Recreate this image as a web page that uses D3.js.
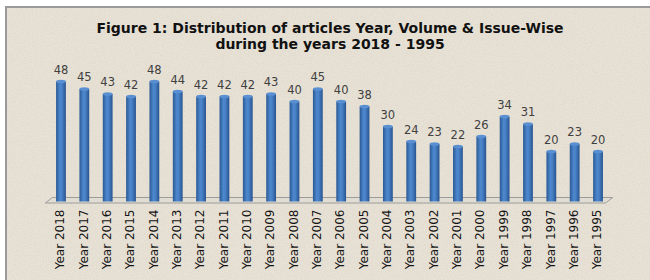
<!DOCTYPE html>
<html>
<head>
<meta charset="utf-8">
<script src="https://cdn.jsdelivr.net/npm/d3@7"></script>
<style>
  html, body { margin: 0; padding: 0; background: #fff; }
  #chart { width: 650px; height: 280px; }
</style>
</head>
<body>
<div id="chart"></div>
<script>
// Datos
const years = ["Year 2018", "Year 2017", "Year 2016", "Year 2015", "Year 2014", "Year 2013",
  "Year 2012", "Year 2011", "Year 2010", "Year 2009", "Year 2008", "Year 2007",
  "Year 2006", "Year 2005", "Year 2004", "Year 2003", "Year 2002", "Year 2001",
  "Year 2000", "Year 1999", "Year 1998", "Year 1997", "Year 1996", "Year 1995"];
const articles = [48, 45, 43, 42, 48, 44, 42, 42, 42, 43, 40, 45,
  40, 38, 30, 24, 23, 22, 26, 34, 31, 20, 23, 20];
const titleLines = ["Figure 1: Distribution of articles Year, Volume & Issue-Wise",
  "during the years 2018 - 1995"];

const datos = years.map((y, i) => ({ year: y, value: articles[i] }));

const width = 650, height = 280;

const svg = d3.select("#chart").append("svg")
  .attr("width", width)
  .attr("height", height);

const defs = svg.append("defs");

const grad = defs.append("linearGradient")
  .attr("id", "cyl")
  .attr("x1", "0%").attr("x2", "100%").attr("y1", "0%").attr("y2", "0%");
grad.append("stop").attr("offset", "0%").attr("stop-color", "#2a5994");
grad.append("stop").attr("offset", "40%").attr("stop-color", "#4d87cd");
grad.append("stop").attr("offset", "60%").attr("stop-color", "#4881c6");
grad.append("stop").attr("offset", "100%").attr("stop-color", "#27538f");

// Textura de fondo
const tex = defs.append("filter").attr("id", "paper");
tex.append("feTurbulence")
  .attr("type", "fractalNoise").attr("baseFrequency", 0.9)
  .attr("numOctaves", 2).attr("seed", 3).attr("result", "noise");
tex.append("feColorMatrix").attr("in", "noise").attr("type", "matrix")
  .attr("values", "0 0 0 0 0.55  0 0 0 0 0.5  0 0 0 0 0.42  0 0 0 -1.6 0.95")
  .attr("result", "spots");
tex.append("feComposite").attr("in", "spots").attr("in2", "SourceGraphic").attr("operator", "in");

// Fondo
svg.append("rect")
  .attr("x", 6).attr("y", 7)
  .attr("width", width - 6).attr("height", height - 7)
  .attr("fill", "#e8e2d6");
svg.append("rect")
  .attr("x", 6).attr("y", 7)
  .attr("width", width - 6).attr("height", height - 7)
  .attr("fill", "#e8e2d6")
  .attr("filter", "url(#paper)")
  .attr("opacity", 0.35);

// Borde
svg.append("path")
  .attr("d", `M6,${height} L6,7 L${width},7`)
  .attr("fill", "none")
  .attr("stroke", "#9a9a9a")
  .attr("stroke-width", 2);

// Escalas
const x = d3.scaleBand().domain(years)
  .range([49.3, 609.7])
  .paddingInner(0.58).paddingOuter(0.29);
const y = d3.scaleLinear().domain([0, 50]).range([201.5, 76.5]);

// Suelo 3D
const [r0, r1] = x.range();
const base = y(0);
svg.append("path")
  .attr("d", `M${r0 - 4},${base + 1.5} L${r0 + 3},${base - 4} L${r1 + 3},${base - 4} L${r1 - 4},${base + 1.5} Z`)
  .attr("fill", "#e2ddd2")
  .attr("stroke", "#9c9c9c")
  .attr("stroke-width", 1);

// Barras
const bw = x.bandwidth();
const barras = svg.selectAll("g.barra")
  .data(datos)
  .enter()
  .append("g")
  .attr("class", "barra");

barras.append("rect")
  .attr("x", d => x(d.year))
  .attr("y", d => y(d.value))
  .attr("width", bw)
  .attr("height", d => base - y(d.value))
  .attr("fill", "url(#cyl)");

barras.append("ellipse")
  .attr("cx", d => x(d.year) + bw / 2)
  .attr("cy", d => y(d.value))
  .attr("rx", bw / 2)
  .attr("ry", 1.8)
  .attr("fill", "#5a90d2");

// Etiquetas de valor
svg.selectAll("text.valor")
  .data(datos)
  .enter()
  .append("text")
  .attr("class", "valor")
  .attr("x", d => x(d.year) + bw / 2)
  .attr("y", d => y(d.value) - 8)
  .attr("text-anchor", "middle")
  .attr("font-family", "DejaVu Sans, Verdana, sans-serif")
  .attr("font-size", "11.5px")
  .attr("fill", "#404040")
  .text(d => d.value);

// Eje X (rotado)
const xAxis = svg.append("g")
  .attr("transform", `translate(-1,${base + 8})`)
  .call(d3.axisBottom(x).tickSize(0).tickPadding(0));
xAxis.select(".domain").remove();
xAxis.selectAll("text")
  .attr("transform", "rotate(-90)")
  .attr("x", 0)
  .attr("y", 0)
  .attr("dx", "0")
  .attr("dy", "0.35em")
  .attr("text-anchor", "end")
  .attr("font-family", "DejaVu Sans, Verdana, sans-serif")
  .attr("font-size", "12px")
  .attr("fill", "#151515");

// Título
svg.selectAll("text.titulo")
  .data(titleLines)
  .enter()
  .append("text")
  .attr("class", "titulo")
  .attr("x", 330)
  .attr("y", (d, i) => 33 + i * 16)
  .attr("text-anchor", "middle")
  .attr("font-family", "DejaVu Sans, Verdana, sans-serif")
  .attr("font-weight", "bold")
  .attr("font-size", "14px")
  .attr("fill", "#111")
  .text(d => d);
</script>
</body>
</html>
